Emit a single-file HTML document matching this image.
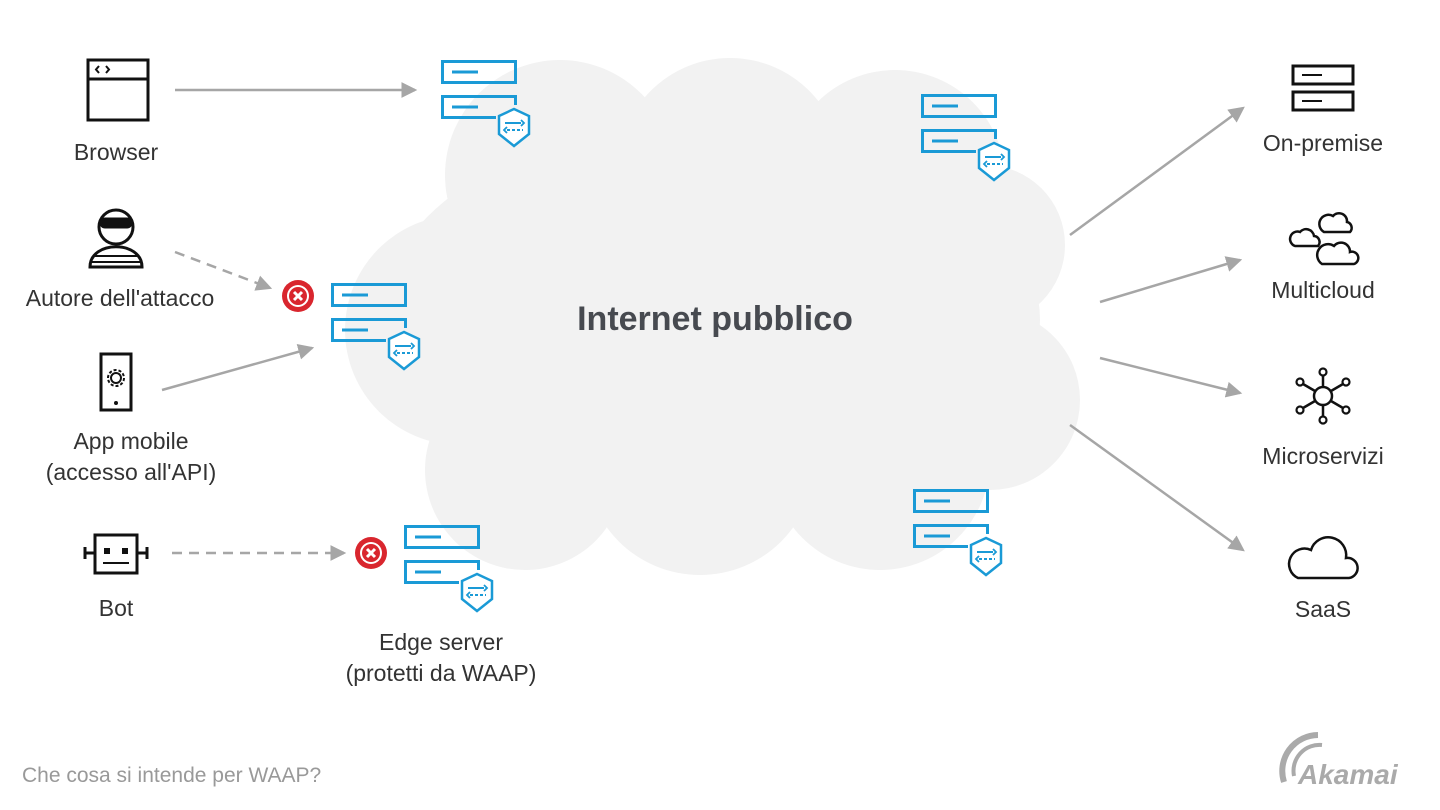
<!DOCTYPE html>
<html><head><meta charset="utf-8"><style>
html,body{margin:0;padding:0;background:#fff;}
svg{display:block;}
text{font-family:"Liberation Sans",Arial,sans-serif;fill:#333;}
</style></head><body>
<svg width="1440" height="810" viewBox="0 0 1440 810" xmlns="http://www.w3.org/2000/svg">
<defs>
<g id="srv" fill="none" stroke="#1a9ad6" stroke-width="3">
  <rect x="1.5" y="1.5" width="73" height="21"/>
  <line x1="11" y1="12" x2="37" y2="12"/>
  <path d="M55 57.5 H1.5 V36.5 H74.5 V45"/>
  <line x1="11" y1="47" x2="37" y2="47"/>
  <path d="M58 56 L73 49 L88 56 V74 L73 86 L58 74 Z" fill="#fff" stroke-width="2.5"/>
  <g stroke-width="2"><line x1="64" y1="63" x2="80" y2="63"/><line x1="66" y1="70" x2="82" y2="70" stroke-dasharray="3 2"/></g>
  <path d="M80 60 L83 63 L80 66 M66 67 L63 70 L66 73" stroke-width="1.8"/>
</g>
<marker id="ah" markerWidth="16" markerHeight="16" refX="12" refY="7" orient="auto" markerUnits="userSpaceOnUse" viewBox="0 0 14 14"><path d="M0 0 L14 7 L0 14 Z" fill="#a6a6a6"/></marker>
</defs>
<!-- cloud -->
<g fill="#f2f2f2">
<circle cx="560" cy="175" r="115"/><circle cx="730" cy="170" r="112"/><circle cx="895" cy="180" r="110"/>
<circle cx="985" cy="245" r="80"/><circle cx="990" cy="400" r="90"/><circle cx="460" cy="330" r="115"/>
<circle cx="525" cy="470" r="100"/><circle cx="700" cy="460" r="115"/><circle cx="880" cy="460" r="110"/>
<ellipse cx="710" cy="320" rx="330" ry="200"/>
</g>
<text x="715" y="330" font-size="34" text-anchor="middle" style="fill:#474a50;font-weight:bold">Internet pubblico</text>
<!-- servers -->
<use href="#srv" x="441" y="60"/><use href="#srv" x="921" y="94"/><use href="#srv" x="331" y="283"/>
<use href="#srv" x="404" y="525"/><use href="#srv" x="913" y="489"/>
<!-- arrows -->
<g stroke="#a6a6a6" stroke-width="2.5" fill="none" marker-end="url(#ah)">
<line x1="175" y1="90" x2="415" y2="90"/>
<line x1="175" y1="252" x2="270" y2="288" stroke-dasharray="10 7"/>
<line x1="162" y1="390" x2="312" y2="348"/>
<line x1="172" y1="553" x2="344" y2="553" stroke-dasharray="10 7"/>
<line x1="1070" y1="235" x2="1243" y2="108"/>
<line x1="1100" y1="302" x2="1240" y2="260"/>
<line x1="1100" y1="358" x2="1240" y2="393"/>
<line x1="1070" y1="425" x2="1243" y2="550"/>
</g>
<!-- red blocks -->
<g><circle cx="298" cy="296" r="16" fill="#d9262e"/><circle cx="298" cy="296" r="11" fill="#fff"/><circle cx="298" cy="296" r="9" fill="#d9262e"/>
<path d="M294 292 L302 300 M302 292 L294 300" stroke="#fff" stroke-width="3"/></g>
<g><circle cx="371" cy="553" r="16" fill="#d9262e"/><circle cx="371" cy="553" r="11" fill="#fff"/><circle cx="371" cy="553" r="9" fill="#d9262e"/>
<path d="M367 549 L375 557 M375 549 L367 557" stroke="#fff" stroke-width="3"/></g>
<!-- left icons -->
<g fill="none" stroke="#111" stroke-width="3">
<rect x="88" y="60" width="60" height="60"/><line x1="88" y1="79" x2="148" y2="79"/>
<path d="M99 66 L96 69.5 L99 73 M106 66 L109 69.5 L106 73" stroke-width="2"/>
<circle cx="116" cy="227" r="17"/><rect x="101" y="219" width="30" height="8" rx="4" fill="#111"/>
<path d="M90 267 C90 240 142 240 142 267 Z"/><path d="M93 256 H139 M91 262 H141" stroke-width="2"/>
<rect x="101" y="354" width="30" height="56"/>
<circle cx="116" cy="378" r="5" stroke-width="2"/><circle cx="116" cy="378" r="8" stroke-width="2" stroke-dasharray="3 2"/>
<rect x="95" y="535" width="42" height="38"/><line x1="85" y1="553" x2="95" y2="553"/><line x1="137" y1="553" x2="147" y2="553"/>
<line x1="85" y1="547" x2="85" y2="559"/><line x1="147" y1="547" x2="147" y2="559"/>
<line x1="103" y1="563" x2="129" y2="563" stroke-width="2"/>
</g>
<circle cx="116" cy="403" r="2" fill="#111"/>
<rect x="104" y="548" width="6" height="6" fill="#111"/><rect x="122" y="548" width="6" height="6" fill="#111"/>
<!-- right icons -->
<g fill="none" stroke="#111" stroke-width="3">
<rect x="1293" y="66" width="60" height="18"/><line x1="1302" y1="75" x2="1322" y2="75" stroke-width="2"/>
<rect x="1293" y="92" width="60" height="18"/><line x1="1302" y1="101" x2="1322" y2="101" stroke-width="2"/>
<path d="M1295 246 H1318 A6 6 0 0 0 1314 236 A8 8 0 0 0 1300 232 A7 7 0 0 0 1295 246 Z" stroke-width="2.5"/>
<path d="M1324 232 H1350 A6 6 0 0 0 1347 222 A8 8 0 0 0 1333 216 A7 7 0 0 0 1324 232 Z" stroke-width="2.5"/>
<path d="M1322 264 H1354 A6 6 0 0 0 1350 252 A9 9 0 0 0 1334 246 A8 8 0 0 0 1322 264 Z" stroke-width="2.5"/>
<circle cx="1323" cy="396" r="9" stroke-width="2.5"/>
<g stroke-width="2.5"><line x1="1323" y1="387" x2="1323" y2="376"/><line x1="1323" y1="405" x2="1323" y2="416"/>
<line x1="1315" y1="391" x2="1303" y2="384"/><line x1="1331" y1="391" x2="1343" y2="384"/>
<line x1="1315" y1="401" x2="1303" y2="408"/><line x1="1331" y1="401" x2="1343" y2="408"/></g>
<g stroke-width="2.2"><circle cx="1323" cy="372" r="3.5"/><circle cx="1323" cy="420" r="3.5"/><circle cx="1300" cy="382" r="3.5"/>
<circle cx="1346" cy="382" r="3.5"/><circle cx="1300" cy="410" r="3.5"/><circle cx="1346" cy="410" r="3.5"/></g>
<path d="M1298 578 H1349 A10 10 0 0 0 1346 558 A18 18 0 0 0 1311 550 A14 14 0 0 0 1298 578 Z" stroke-width="2.5"/>
</g>
<!-- labels -->
<g font-size="23" text-anchor="middle">
<text x="116" y="160">Browser</text>
<text x="120" y="306">Autore dell'attacco</text>
<text x="131" y="449">App mobile</text>
<text x="131" y="480">(accesso all'API)</text>
<text x="116" y="616">Bot</text>
<text x="441" y="650">Edge server</text>
<text x="441" y="681">(protetti da WAAP)</text>
<text x="1323" y="151">On-premise</text>
<text x="1323" y="298">Multicloud</text>
<text x="1323" y="464">Microservizi</text>
<text x="1323" y="617">SaaS</text>
</g>
<text x="22" y="782" font-size="21" style="fill:#999">Che cosa si intende per WAAP?</text>
<g fill="none" stroke="#aaa" stroke-width="6">
<path d="M1284 782 A36 36 0 0 1 1318 735"/><path d="M1294 776 A26 26 0 0 1 1322 745" stroke-width="4"/>
</g>
<text x="1298" y="784" font-size="28" font-style="italic" font-weight="bold" style="fill:#aaa">Akamai</text>
</svg>
</body></html>
